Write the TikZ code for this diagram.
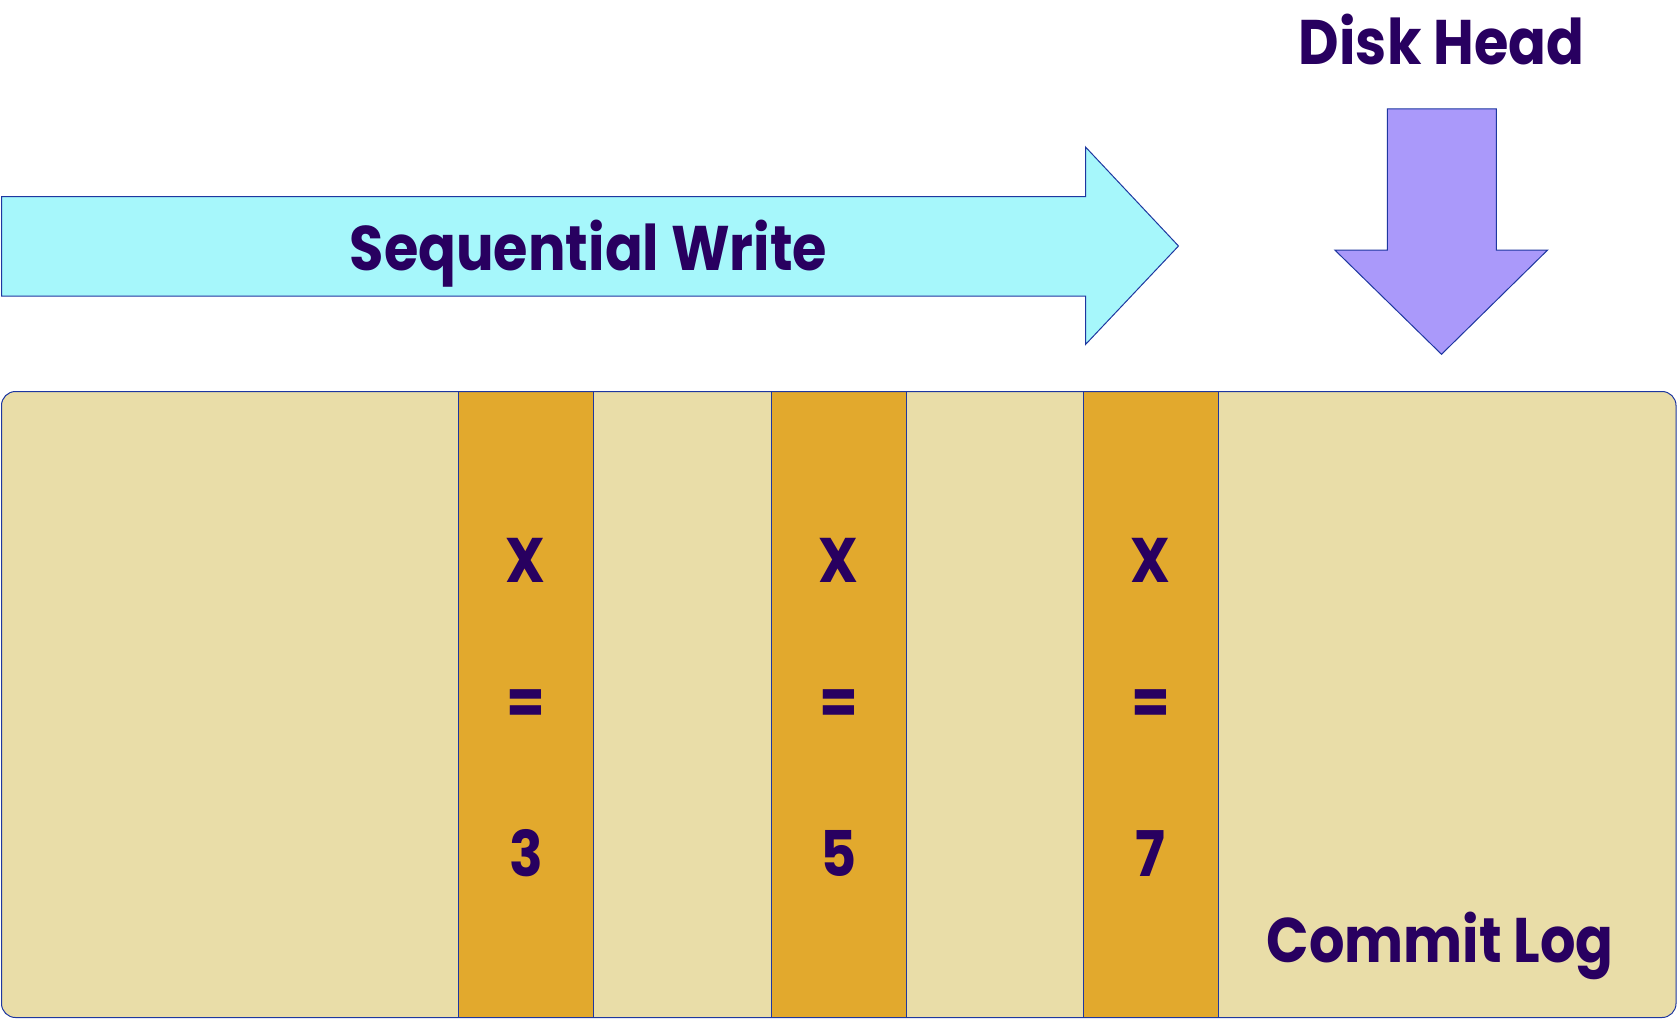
\documentclass[tikz,border=0pt]{standalone}
\usepackage{fontspec}
\setmainfont{Poppins}[FakeStretch=0.885]
\definecolor{lineblue}{RGB}{30,55,160}
\definecolor{cyanfill}{RGB}{166,247,251}
\definecolor{lavfill}{RGB}{170,153,250}
\definecolor{beigefill}{RGB}{233,221,168}
\definecolor{orangefill}{RGB}{226,169,45}
\definecolor{ink}{RGB}{40,0,96}
\begin{document}
\begin{tikzpicture}[x=1pt,y=-1pt,
  outl/.style={draw=lineblue, line width=1pt, line join=miter},
  lbl/.style={text=ink, font=\bfseries\fontsize{63}{72}\selectfont, inner sep=0pt, anchor=base}]
\useasboundingbox (0,0) rectangle (1677,1019);
% Sequential write arrow
\draw[outl, fill=cyanfill] (1.5,196.5) -- (1085.5,196.5) -- (1085.5,147) -- (1178.5,246)
  -- (1085.5,344.5) -- (1085.5,296) -- (1.5,296) -- cycle;
% Disk head arrow
\draw[outl, fill=lavfill] (1387.3,109) -- (1496.3,109) -- (1496.3,250) -- (1547.6,250)
  -- (1441.5,354.3) -- (1334.8,250) -- (1387.3,250) -- cycle;
% Commit log box
\fill[beigefill, rounded corners=14pt] (1.5,391.5) rectangle (1676,1017.5);
\foreach \a/\b in {458.3/593.5, 771.2/906.2, 1083.4/1218.3} {
  \fill[orangefill] (\a,391.5) rectangle (\b,1017.5);
  \draw[outl] (\a,391.5) -- (\a,1017.5);
  \draw[outl] (\b,391.5) -- (\b,1017.5);
}
\draw[outl, rounded corners=14pt] (1.5,391.5) rectangle (1676,1017.5);
% Labels
\node[lbl] (seq) at (588.5,270) {Sequential Write};
\node[lbl] (disk) at (1441.5,65) {Disk Head};
\node[lbl] (log) at (1440,962) {Commit Log};
\foreach \cx/\v/\i in {525.9/3/a, 838.7/5/b, 1150.8/7/c} {
  \node[lbl] (x\i) at (\cx,582) {X};
  \node[lbl, anchor=center] (eq\i) at (\cx,707) {=};
  \node[lbl] (v\i) at (\cx,876) {\v};
}
\end{tikzpicture}
\end{document}
